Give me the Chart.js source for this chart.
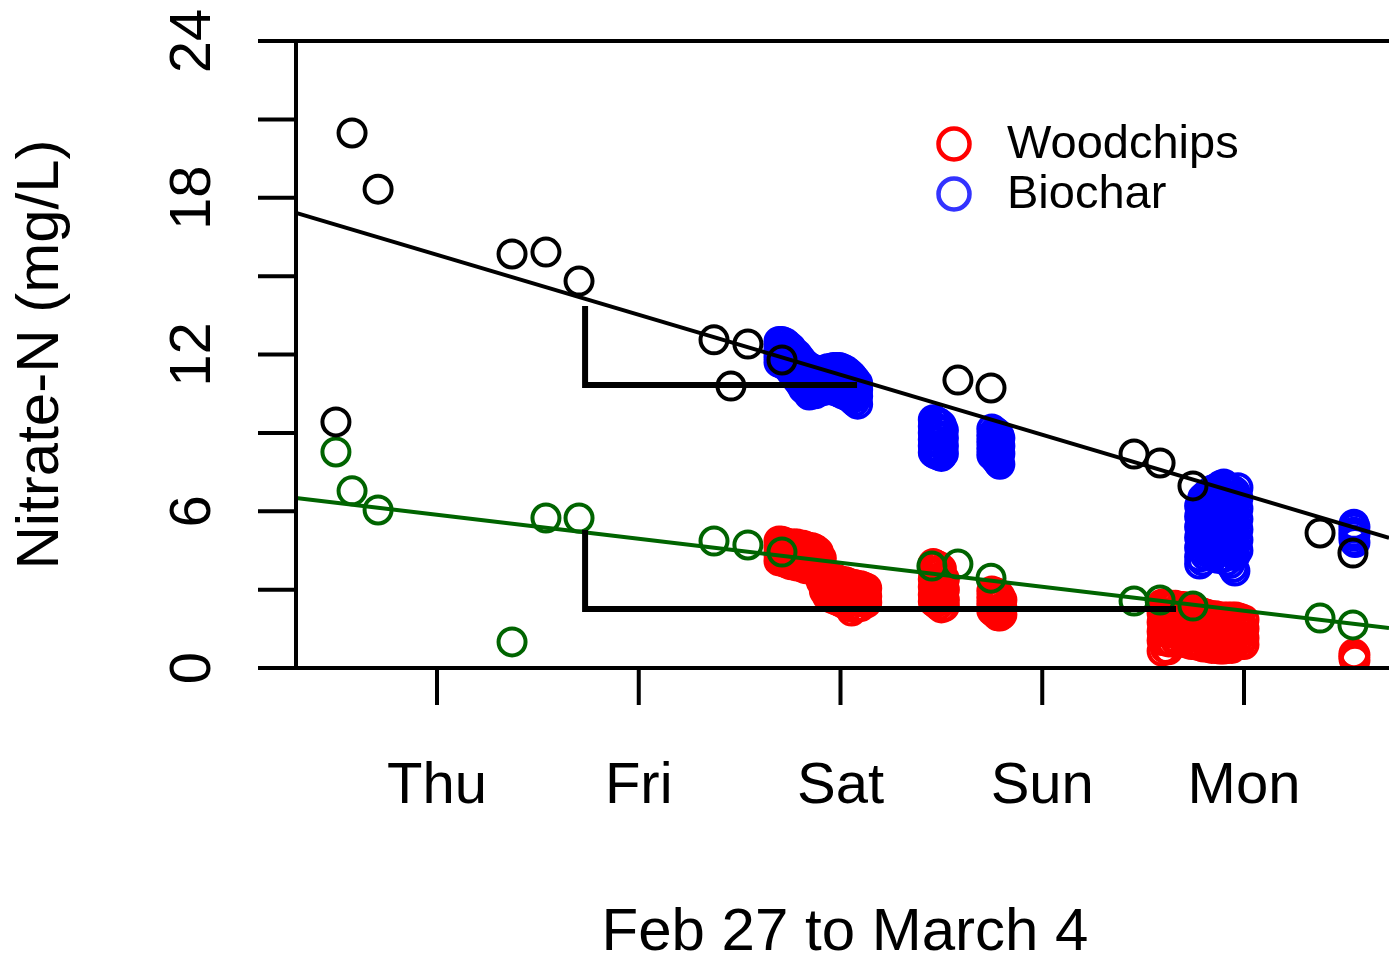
<!DOCTYPE html>
<html>
<head>
<meta charset="utf-8">
<script src="https://cdn.jsdelivr.net/npm/chart.js@4.4.1/dist/chart.umd.min.js"></script>
<style>
  html,body{margin:0;padding:0;background:#fff;overflow:hidden;}
  canvas{display:block;}
</style>
</head>
<body>
<canvas id="c" width="1389" height="956"></canvas>
<script>
// days on the x axis (Thu = 1 ... Mon = 5)
const dayTicks = [1, 2, 3, 4, 5];
const dayLabels = ["Thu", "Fri", "Sat", "Sun", "Mon"];
const yTicks = [0, 3, 6, 9, 12, 15, 18, 21, 24];
const yLabels = [0, 6, 12, 18, 24];
const xTitle = "Feb 27 to March 4";
const yTitle = "Nitrate-N (mg/L)";

// grab samples, black = upper series, green = lower series
const blackPts = [[0.579,20.48],[0.708,18.33],[0.499,9.42],[1.372,15.85],[1.540,15.92],[1.704,14.81],
  [2.373,12.56],[2.541,12.40],[2.457,10.79],[2.710,11.79],[3.582,11.02],[3.746,10.72],
  [4.455,8.19],[4.584,7.85],[4.747,6.97],[5.377,5.17],[5.540,4.40]];
const greenPts = [[0.499,8.27],[0.579,6.78],[0.708,6.05],[1.372,1.0],[1.540,5.74],[1.704,5.74],
  [2.373,4.86],[2.541,4.71],[2.710,4.44],[3.453,3.90],[3.582,3.98],[3.746,3.44],
  [4.455,2.56],[4.584,2.60],[4.747,2.37],[5.377,1.91],[5.540,1.65]];

// regression lines (end points)
const blackFit = [[0.3011,17.42],[5.7187,4.98]];
const greenFit = [[0.3011,6.51],[5.7187,1.53]];

// the two step brackets
const bracketHi = [[1.734,13.86],[1.734,10.83],[3.082,10.83]];
const bracketLo = [[1.734,5.28],[1.734,2.26],[4.663,2.26]];

// biochar sensor readings: [x, y, y, ...]
const biochar = [
  [2.695,12.5,12.3,12.1,11.9,11.7],[2.71,12.5,12.3,12.1,11.9,11.65],[2.725,12.45,12.25,12.05,11.85,11.6],
  [2.74,12.35,12.15,11.95,11.75,11.5],[2.755,12.25,12.05,11.85,11.6,11.35],[2.77,12.1,11.9,11.7,11.45,11.2],
  [2.785,12.0,11.8,11.55,11.3,11.05],[2.80,11.85,11.6,11.35,11.1,10.9],[2.815,11.7,11.45,11.2,10.95,10.7],
  [2.83,11.6,11.35,11.1,10.85,10.6],[2.845,11.5,11.25,11.0,10.7,10.45],[2.86,11.45,11.2,10.95,10.7,10.5],
  [2.875,11.4,11.15,10.9,10.65,10.5],[2.89,11.35,11.1,10.85,10.6],[2.905,11.35,11.1,10.85,10.6],
  [2.92,11.4,11.15,10.9,10.65],[2.935,11.45,11.2,10.95,10.65],[2.95,11.45,11.2,10.95,10.65],
  [2.965,11.5,11.25,10.95,10.65],[2.98,11.5,11.25,10.95,10.6],[2.995,11.5,11.2,10.9,10.55],
  [3.01,11.45,11.15,10.85,10.5],[3.025,11.4,11.1,10.8,10.45],[3.04,11.3,11.0,10.7,10.4],
  [3.055,11.2,10.9,10.6,10.3],[3.07,11.05,10.8,10.5,10.2],[3.085,10.9,10.65,10.4,10.1],
  [3.46,9.5,9.25,9.0,8.75,8.5,8.25],[3.47,9.45,9.2,8.95,8.7,8.45,8.2],[3.485,9.4,9.15,8.9,8.65,8.4,8.15],
  [3.50,9.3,9.05,8.8,8.55,8.3,8.1],[3.51,9.1,8.8,8.5,8.2],
  [3.75,9.15,8.9,8.65,8.4,8.15],[3.765,9.05,8.8,8.55,8.3,8.05],[3.775,9.0,8.75,8.5,8.25,7.95],
  [3.785,8.9,8.65,8.4,8.1,7.85],[3.79,8.8,8.5,8.2,7.8],
  [4.78,6.2,5.8,5.4,5.0,4.6,4.25,3.98],[4.795,6.5,6.1,5.7,5.3,4.9,4.5,4.1],
  [4.81,6.6,6.2,5.8,5.4,5.0,4.6,4.3],[4.825,6.7,6.3,5.9,5.5,5.1,4.7,4.4],
  [4.84,6.8,6.4,6.0,5.6,5.2,4.8,4.45],[4.855,6.85,6.45,6.05,5.65,5.25,4.85,4.45],
  [4.87,6.9,6.5,6.1,5.7,5.3,4.9,4.5,4.2],[4.885,7.0,6.6,6.2,5.8,5.4,5.0,4.6,4.2],
  [4.90,7.04,6.65,6.25,5.85,5.45,5.05,4.65,4.25],[4.915,6.95,6.55,6.15,5.75,5.35,4.95,4.55,4.1],
  [4.93,6.85,6.45,6.05,5.65,5.25,4.85,4.45,4.0],[4.945,6.8,6.4,6.0,5.6,5.2,4.8,4.4,3.85],
  [4.955,6.75,6.35,5.95,5.55,5.15,4.75,4.3,3.71],[4.97,6.9,6.5,6.1,5.7,5.3,4.9,4.5],
  [5.545,5.5,5.35,5.2,5.05,4.9],[5.55,5.4,5.1,4.8]
];

// woodchips sensor readings: [x, y, y, ...]
const woodchips = [
  [2.695,4.86,4.6,4.35,4.1],[2.71,4.85,4.6,4.35,4.1],[2.725,4.8,4.55,4.3,4.05],[2.74,4.75,4.5,4.25,4.0],
  [2.755,4.75,4.5,4.25,3.95],[2.77,4.75,4.5,4.25,3.95],[2.785,4.75,4.5,4.2,3.9],[2.80,4.7,4.45,4.2,3.9],
  [2.815,4.7,4.45,4.15,3.85],[2.83,4.65,4.4,4.1,3.8],[2.845,4.6,4.35,4.05,3.8],[2.86,4.6,4.3,4.0,3.8],
  [2.875,4.55,4.25,3.95,3.7],[2.89,4.45,4.15,3.85,3.55],[2.905,4.2,3.9,3.6,3.3],[2.92,3.7,3.45,3.2,2.95],
  [2.935,3.5,3.25,3.0,2.75],[2.95,3.45,3.2,2.95,2.7],[2.965,3.4,3.15,2.9,2.65],[2.98,3.4,3.15,2.9,2.6],
  [2.995,3.35,3.1,2.85,2.55],[3.01,3.3,3.05,2.8,2.5],[3.025,3.3,3.05,2.75,2.45],[3.04,3.25,3.0,2.7,2.35],
  [3.055,3.2,2.95,2.65,2.18],[3.07,3.2,2.9,2.6,2.3],[3.085,3.15,2.9,2.6,2.35],[3.10,3.15,2.85,2.55,2.35],
  [3.115,3.1,2.85,2.55],[3.13,3.05,2.75,2.5],
  [3.46,4.0,3.7,3.4,3.1,2.8,2.55],[3.47,3.95,3.65,3.35,3.05,2.75,2.5],[3.485,3.9,3.6,3.3,3.0,2.7,2.4],
  [3.50,3.8,3.5,3.2,2.9,2.6,2.3],[3.515,3.4,3.0,2.6,2.35],
  [3.75,2.95,2.7,2.45,2.2],[3.765,2.9,2.65,2.4,2.1],[3.78,2.85,2.55,2.25,2.0],[3.79,2.75,2.45,2.15,1.99],
  [3.80,2.6,2.3,2.05],
  [4.594,2.45,2.1,1.75,1.4,1.05,0.65],[4.61,2.45,2.1,1.75,1.4,1.05,0.75],[4.625,2.4,2.05,1.7,1.35,1.0,0.7],
  [4.64,2.4,2.05,1.7,1.35,1.0],[4.66,2.4,2.05,1.7,1.35,1.05],[4.68,2.35,2.0,1.65,1.3,1.0],
  [4.70,2.35,2.0,1.65,1.3],[4.72,2.3,1.95,1.6,1.25,0.95],[4.74,2.25,1.9,1.55,1.2,0.9],
  [4.76,2.2,1.9,1.55,1.2,0.9],[4.78,2.15,1.85,1.5,1.15,0.85],[4.80,2.1,1.8,1.45,1.1,0.8],
  [4.82,2.05,1.75,1.4,1.05,0.8],[4.84,2.0,1.7,1.35,1.0,0.75],[4.86,2.0,1.65,1.3,0.95,0.75],
  [4.88,1.95,1.65,1.3,0.95,0.73],[4.90,1.95,1.6,1.25,0.9,0.73],[4.92,1.95,1.6,1.25,0.9,0.75],
  [4.94,1.95,1.6,1.25,0.9,0.75],[4.96,1.95,1.6,1.25,0.95],[4.98,1.9,1.55,1.2,0.9],[5.00,1.85,1.5,1.15,0.9],
  [5.545,0.55,0.45,0.35],[5.55,0.5,0.3]
];

const legendItems = [["Woodchips", "#ff0000"], ["Biochar", "#3333ff"]];

const FONT = '"Liberation Sans", Arial, Helvetica, sans-serif';
const toXY = a => a.map(p => ({x: p[0], y: p[1]}));
const fromRows = rows => rows.flatMap(r => r.slice(1).map(v => ({x: r[0], y: v})));

const pts = (data, color) => ({
  data, showLine: false, pointStyle: "circle", pointRadius: 13.5, pointHoverRadius: 13.5,
  pointBorderWidth: 4, pointBorderColor: color, pointBackgroundColor: "rgba(0,0,0,0)", clip: 2
});
const line = (data, color, w) => ({
  data: toXY(data), showLine: true, pointRadius: 0, borderColor: color, borderWidth: w,
  borderCapStyle: "butt", borderJoinStyle: "miter", fill: false, tension: 0, clip: 2
});

// R style axes, ticks and labels
const axesPlugin = {
  id: "rAxes",
  afterDatasetsDraw(chart) {
    const {ctx, chartArea: a, scales: {x, y}} = chart;
    ctx.save();
    ctx.strokeStyle = "#000";
    ctx.lineWidth = 4;
    ctx.lineCap = "butt";
    ctx.beginPath();
    ctx.moveTo(a.left, y.getPixelForValue(24));
    ctx.lineTo(a.left, y.getPixelForValue(0));
    yTicks.forEach(v => {
      const py = y.getPixelForValue(v);
      ctx.moveTo(a.left - 38, py);
      ctx.lineTo(a.left, py);
    });
    ctx.moveTo(a.left, y.getPixelForValue(24));
    ctx.lineTo(a.right, y.getPixelForValue(24));
    ctx.moveTo(a.left, y.getPixelForValue(0));
    ctx.lineTo(a.right, y.getPixelForValue(0));
    dayTicks.forEach(v => {
      const px = x.getPixelForValue(v);
      ctx.moveTo(px, a.bottom);
      ctx.lineTo(px, a.bottom + 37);
    });
    ctx.stroke();

    ctx.fillStyle = "#000";
    ctx.font = "58px " + FONT;
    ctx.textAlign = "center";
    ctx.textBaseline = "alphabetic";
    dayTicks.forEach((v, i) => ctx.fillText(dayLabels[i], x.getPixelForValue(v), a.bottom + 135));
    yLabels.forEach(v => {
      ctx.save();
      ctx.translate(a.left - 86, y.getPixelForValue(v));
      ctx.rotate(-Math.PI / 2);
      ctx.fillText(String(v), 0, 0);
      ctx.restore();
    });
    ctx.font = "60px " + FONT;
    ctx.fillText(xTitle, 845, a.bottom + 282);
    ctx.save();
    ctx.translate(58, (a.top + a.bottom) / 2);
    ctx.rotate(-Math.PI / 2);
    ctx.fillText(yTitle, 0, 0);
    ctx.restore();

    // legend
    ctx.font = "47px " + FONT;
    ctx.textAlign = "left";
    legendItems.forEach((it, i) => {
      const cy = 144 + i * 50;
      ctx.beginPath();
      ctx.arc(954, cy, 15.5, 0, Math.PI * 2);
      ctx.strokeStyle = it[1];
      ctx.lineWidth = 4.5;
      ctx.stroke();
      ctx.fillStyle = "#000";
      ctx.fillText(it[0], 1007, cy + 14);
    });
    ctx.restore();
  }
};

new Chart(document.getElementById("c"), {
  type: "scatter",
  data: {
    datasets: [
      line(bracketHi, "#000", 6),
      line(bracketLo, "#000", 6),
      line(blackFit, "#000", 4),
      line(greenFit, "#006400", 4),
      pts(toXY(blackPts), "#000"),
      pts(toXY(greenPts), "#006400"),
      pts(fromRows(biochar), "#0000ff"),
      pts(fromRows(woodchips), "#ff0000")
    ]
  },
  options: {
    responsive: false,
    animation: false,
    devicePixelRatio: 1,
    layout: {autoPadding: false, padding: {left: 296, top: 41, right: 0, bottom: 288}},
    plugins: {legend: {display: false}, tooltip: {enabled: false}},
    events: [],
    scales: {
      x: {type: "linear", min: 0.3011, max: 5.7187, display: false},
      y: {type: "linear", min: 0, max: 24, display: false}
    }
  },
  plugins: [axesPlugin]
});
</script>
</body>
</html>
